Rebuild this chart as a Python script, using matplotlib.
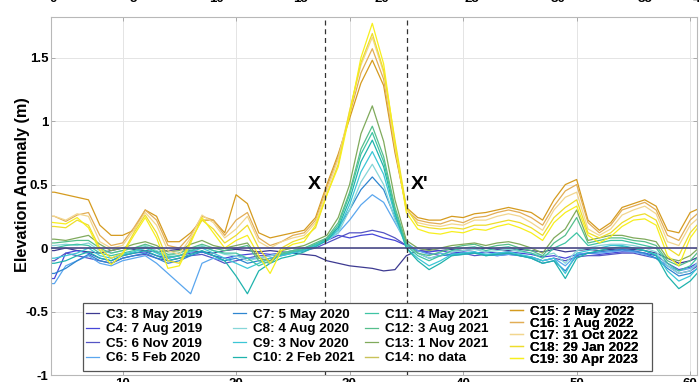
import matplotlib
matplotlib.use('Agg')
import matplotlib.pyplot as plt
from matplotlib.patches import Rectangle

plt.rcParams['font.family'] = ['Liberation Sans', 'DejaVu Sans']
plt.rcParams['font.weight'] = 'bold'

# distance along profile
x = list(range(3, 62))

c3 = [-0.02, -0.02, 0.00, -0.02, -0.03, -0.04, -0.02, 0.00, -0.01, -0.02,
      -0.03, -0.02, -0.01, -0.02, -0.03, -0.04, -0.02, -0.01, -0.02, -0.03,
      -0.02, -0.03, -0.04, -0.05, -0.06, -0.10, -0.12, -0.14, -0.15, -0.16,
      -0.18, -0.17, -0.06, -0.02, -0.01, -0.02, -0.01, -0.02, -0.01, 0.00,
      -0.01, -0.02, -0.01, -0.02, -0.03, -0.01, -0.03, -0.02, -0.01, -0.02,
      -0.01, -0.02, -0.01, -0.02, -0.04, -0.08, -0.12, -0.10, -0.06]
c4 = [-0.24, -0.24, -0.04, -0.02, -0.04, -0.08, -0.10, -0.06, -0.04, -0.03,
      -0.06, -0.08, -0.06, -0.04, -0.03, -0.06, -0.08, -0.06, -0.05, -0.04,
      -0.05, -0.04, -0.02, 0.00, 0.02, 0.06, 0.10, 0.08, 0.10, 0.11,
      0.08, 0.06, 0.02, -0.02, -0.03, -0.02, -0.04, -0.03, -0.04, -0.03,
      -0.04, -0.03, -0.04, -0.05, -0.07, -0.06, -0.08, -0.05, -0.04, -0.05,
      -0.04, -0.03, -0.03, -0.04, -0.06, -0.12, -0.17, -0.15, -0.10]
c5 = [-0.10, -0.10, -0.04, -0.06, -0.08, -0.10, -0.12, -0.08, -0.06, -0.05,
      -0.08, -0.10, -0.08, -0.06, -0.05, -0.08, -0.12, -0.10, -0.08, -0.06,
      -0.06, -0.05, -0.03, -0.02, 0.00, 0.04, 0.08, 0.12, 0.12, 0.14,
      0.12, 0.08, 0.02, -0.02, -0.04, -0.06, -0.05, -0.04, -0.06, -0.05,
      -0.06, -0.05, -0.06, -0.07, -0.10, -0.08, -0.10, -0.07, -0.06, -0.06,
      -0.05, -0.04, -0.04, -0.06, -0.08, -0.14, -0.20, -0.18, -0.12]
c6 = [-0.28, -0.28, -0.14, -0.10, -0.06, -0.12, -0.14, -0.10, -0.08, -0.06,
      -0.12, -0.20, -0.28, -0.36, -0.12, -0.08, -0.10, -0.06, -0.08, -0.08,
      -0.06, -0.04, -0.03, -0.01, 0.02, 0.06, 0.12, 0.22, 0.34, 0.42,
      0.36, 0.20, 0.04, -0.02, -0.05, -0.04, -0.06, -0.05, -0.04, -0.05,
      -0.06, -0.05, -0.06, -0.07, -0.10, -0.08, -0.14, -0.05, -0.04, -0.04,
      -0.03, -0.02, -0.03, -0.05, -0.08, -0.14, -0.18, -0.16, -0.12]
c7 = [-0.20, -0.20, -0.16, -0.10, -0.05, -0.10, -0.12, -0.08, -0.06, -0.04,
      -0.08, -0.12, -0.10, -0.06, -0.03, -0.06, -0.10, -0.08, -0.12, -0.10,
      -0.08, -0.06, -0.04, -0.02, 0.02, 0.08, 0.16, 0.30, 0.46, 0.56,
      0.46, 0.24, 0.04, -0.04, -0.08, -0.06, -0.05, -0.04, -0.03, -0.06,
      -0.05, -0.04, -0.06, -0.08, -0.12, -0.10, -0.18, -0.06, -0.04, -0.03,
      -0.02, -0.01, -0.02, -0.04, -0.08, -0.16, -0.22, -0.20, -0.14]
c8 = [0.02, 0.02, 0.03, 0.02, 0.04, -0.02, -0.04, -0.02, 0.00, 0.02,
      -0.02, -0.06, -0.04, -0.01, 0.02, -0.02, -0.05, -0.06, -0.10, -0.08,
      -0.06, -0.04, -0.02, 0.00, 0.03, 0.06, 0.12, 0.30, 0.52, 0.66,
      0.50, 0.22, 0.02, -0.04, -0.08, -0.06, -0.03, -0.02, -0.01, -0.03,
      -0.02, -0.01, -0.03, -0.04, -0.06, -0.04, -0.12, -0.02, 0.00, 0.02,
      0.03, 0.03, 0.02, 0.00, -0.03, -0.14, -0.20, -0.18, -0.08]
c9 = [-0.08, -0.08, -0.06, -0.04, 0.00, -0.06, -0.08, -0.05, -0.03, 0.00,
      -0.04, -0.08, -0.06, -0.03, 0.00, -0.04, -0.08, -0.12, -0.16, -0.12,
      -0.08, -0.06, -0.04, -0.02, 0.02, 0.06, 0.14, 0.34, 0.60, 0.76,
      0.58, 0.26, 0.00, -0.08, -0.14, -0.10, -0.05, -0.04, -0.03, -0.05,
      -0.04, -0.03, -0.05, -0.07, -0.10, -0.08, -0.20, -0.04, -0.02, 0.00,
      0.02, 0.02, 0.00, -0.02, -0.05, -0.18, -0.26, -0.22, -0.12]
c10 = [-0.12, -0.12, -0.10, -0.06, -0.03, -0.08, -0.10, -0.06, -0.04, -0.02,
       -0.06, -0.10, -0.08, -0.05, -0.02, -0.06, -0.10, -0.22, -0.36, -0.18,
       -0.12, -0.08, -0.06, -0.03, 0.01, 0.06, 0.16, 0.38, 0.68, 0.85,
       0.64, 0.28, 0.00, -0.10, -0.17, -0.12, -0.06, -0.05, -0.04, -0.06,
       -0.05, -0.04, -0.06, -0.08, -0.12, -0.10, -0.24, -0.08, -0.04, -0.02,
       0.00, 0.01, 0.00, -0.02, -0.06, -0.22, -0.32, -0.26, -0.16]
c11 = [0.00, 0.00, 0.02, 0.03, 0.02, -0.04, -0.06, -0.04, -0.02, 0.01,
       -0.03, -0.07, -0.06, -0.02, 0.01, -0.02, -0.04, -0.04, -0.08, -0.14,
       -0.10, -0.05, -0.03, -0.01, 0.03, 0.07, 0.18, 0.42, 0.74, 0.91,
       0.68, 0.30, 0.02, -0.06, -0.10, -0.06, -0.02, 0.00, 0.01, -0.02,
       0.00, 0.01, -0.02, -0.04, -0.08, 0.00, 0.04, 0.12, 0.02, 0.04,
       0.06, 0.06, 0.04, 0.02, 0.00, -0.12, -0.18, -0.14, -0.04]
c12 = [0.04, 0.04, 0.05, 0.06, 0.06, 0.00, -0.04, -0.02, 0.00, 0.03,
       0.00, -0.05, -0.04, 0.00, 0.03, 0.00, -0.02, 0.00, 0.02, -0.10,
       -0.12, -0.04, -0.02, 0.00, 0.04, 0.08, 0.20, 0.44, 0.78, 0.96,
       0.72, 0.32, 0.04, -0.04, -0.06, -0.03, 0.00, 0.02, 0.03, 0.00,
       0.02, 0.03, 0.00, -0.02, -0.06, 0.04, 0.10, 0.24, 0.04, 0.06,
       0.08, 0.08, 0.06, 0.05, 0.02, -0.10, -0.14, -0.10, 0.00]
c13 = [0.07, 0.07, 0.06, 0.08, 0.10, 0.03, -0.02, 0.00, 0.03, 0.05,
       0.02, -0.03, -0.02, 0.03, 0.06, 0.02, 0.00, 0.02, 0.04, -0.08,
       -0.10, -0.02, 0.00, 0.02, 0.06, 0.10, 0.24, 0.50, 0.90, 1.12,
       0.84, 0.38, 0.06, 0.00, -0.02, 0.00, 0.02, 0.03, 0.04, 0.02,
       0.04, 0.05, 0.03, 0.00, -0.04, 0.08, 0.15, 0.30, 0.06, 0.08,
       0.10, 0.10, 0.08, 0.07, 0.05, -0.08, -0.10, -0.06, 0.02]
c14 = None  # no data
c15 = [0.44, 0.44, 0.42, 0.40, 0.38, 0.18, 0.10, 0.10, 0.14, 0.30,
       0.25, 0.05, 0.05, 0.12, 0.22, 0.22, 0.12, 0.42, 0.35, 0.12,
       0.08, 0.10, 0.12, 0.14, 0.24, 0.50, 0.74, 1.02, 1.30, 1.48,
       1.28, 0.75, 0.32, 0.24, 0.22, 0.22, 0.25, 0.24, 0.27, 0.28,
       0.30, 0.32, 0.30, 0.28, 0.22, 0.38, 0.50, 0.54, 0.22, 0.14,
       0.20, 0.32, 0.35, 0.38, 0.33, 0.14, 0.12, 0.28, 0.32]
c16 = [0.25, 0.25, 0.21, 0.26, 0.28, 0.10, 0.02, 0.04, 0.16, 0.30,
       0.22, 0.02, 0.00, 0.10, 0.25, 0.22, 0.10, 0.22, 0.28, 0.08,
       0.02, 0.05, 0.10, 0.12, 0.22, 0.48, 0.72, 1.05, 1.38, 1.57,
       1.33, 0.78, 0.30, 0.22, 0.20, 0.19, 0.22, 0.20, 0.24, 0.25,
       0.28, 0.30, 0.28, 0.24, 0.18, 0.33, 0.45, 0.50, 0.20, 0.12,
       0.18, 0.30, 0.33, 0.36, 0.30, 0.10, 0.06, 0.22, 0.30]
c17 = [0.25, 0.25, 0.22, 0.27, 0.25, 0.05, 0.00, 0.02, 0.14, 0.28,
       0.18, -0.02, -0.05, 0.08, 0.26, 0.20, 0.08, 0.15, 0.25, 0.05,
       0.00, 0.05, 0.08, 0.10, 0.20, 0.45, 0.70, 1.08, 1.44, 1.66,
       1.38, 0.80, 0.30, 0.20, 0.18, 0.17, 0.19, 0.18, 0.22, 0.22,
       0.25, 0.27, 0.25, 0.20, 0.14, 0.30, 0.40, 0.44, 0.15, 0.10,
       0.15, 0.26, 0.30, 0.33, 0.27, 0.05, 0.02, 0.18, 0.26]
c18 = [0.17, 0.17, 0.16, 0.22, 0.18, 0.00, -0.08, -0.04, 0.12, 0.26,
       0.12, -0.10, -0.12, 0.06, 0.22, 0.15, 0.04, 0.10, 0.18, 0.00,
       -0.12, 0.00, 0.05, 0.08, 0.16, 0.42, 0.66, 1.08, 1.46, 1.69,
       1.40, 0.85, 0.32, 0.18, 0.16, 0.15, 0.16, 0.15, 0.18, 0.18,
       0.20, 0.22, 0.20, 0.16, 0.10, 0.24, 0.32, 0.38, 0.12, 0.08,
       0.12, 0.20, 0.25, 0.27, 0.22, 0.00, -0.06, 0.12, 0.22]
c19 = [0.21, 0.20, 0.19, 0.24, 0.16, -0.02, -0.13, -0.05, 0.10, 0.24,
       0.08, -0.16, -0.14, 0.04, 0.24, 0.12, 0.00, 0.06, 0.10, -0.06,
       -0.20, -0.02, 0.03, 0.05, 0.18, 0.42, 0.64, 1.05, 1.50, 1.77,
       1.45, 0.82, 0.28, 0.15, 0.12, 0.11, 0.13, 0.12, 0.15, 0.14,
       0.17, 0.19, 0.16, 0.12, 0.06, 0.20, 0.28, 0.33, 0.10, 0.04,
       0.09, 0.17, 0.22, 0.23, 0.18, -0.06, -0.14, 0.08, 0.20]

labels = ['C3: 8 May 2019', 'C4: 7 Aug 2019', 'C5: 6 Nov 2019', 'C6: 5 Feb 2020',
          'C7: 5 May 2020', 'C8: 4 Aug 2020', 'C9: 3 Nov 2020', 'C10: 2 Feb 2021',
          'C11: 4 May 2021', 'C12: 3 Aug 2021', 'C13: 1 Nov 2021', 'C14: no data',
          'C15: 2 May 2022', 'C16: 1 Aug 2022', 'C17: 31 Oct 2022', 'C18: 29 Jan 2022',
          'C19: 30 Apr 2023']
series = [c3, c4, c5, c6, c7, c8, c9, c10, c11, c12, c13, c14, c15, c16, c17, c18, c19]
colors = ['#3d3a91', '#4646d8', '#5454c4', '#5aa6ee', '#2e86d0', '#86d6d8', '#3cc6d6',
          '#1fb3ad', '#3fc4a4', '#55bf8c', '#80aa5c', '#c9c25a', '#d59b1f', '#e2ad55',
          '#f2d68e', '#eedd2a', '#f7ef1d']

# profile section bounds
x_left, x_right = 27.87, 35.09

# upper panel tick labels (cut off at top of image)
top_labels = ['0', '5', '10', '15', '20', '25', '30', '35', '40']
top_px = [53, 133, 217, 300, 382, 472, 558, 645, 700]

W, H = 699, 382
fig = plt.figure(figsize=(W / 100, H / 100), dpi=100)
ax = fig.add_axes([51 / W, 7 / H, 646 / W, 358 / H])

handles = []
for lab, col, y in zip(labels, colors, series):
    if y is None:
        h, = ax.plot([], [], color=col, lw=1.0, label=lab)
    else:
        h, = ax.plot(x, y, color=col, lw=0.9, label=lab)
    handles.append(h)

ax.axhline(0, color='#4a4a88', lw=1.2, zorder=3)
for xv in (x_left, x_right):
    ax.axvline(xv, color='#333333', lw=0.9, ls=(0, (4, 3)), zorder=3)

ax.text(26.9, 0.5, 'X', fontsize=14, fontweight='bold', ha='center', va='center')
ax.text(36.2, 0.5, "X'", fontsize=14, fontweight='bold', ha='center', va='center')

ax.set_xlim(3.7, 60.6)
ax.set_ylim(-1, 1.82)
ax.set_xticks([10, 20, 30, 40, 50, 60])
ax.set_xticklabels(['10', '20', '30', '40', '50', '60'])
ax.set_yticks([-1, -0.5, 0, 0.5, 1, 1.5])
ax.set_yticklabels(['-1', '-0.5', '0', '0.5', '1', '1.5'])
ax.tick_params(direction='in', top=True, right=True, length=3, width=0.6,
               color='#a0a0a0', labelsize=9.5, pad=2)
for s in ax.spines.values():
    s.set_color('#b8b8b8')
    s.set_linewidth(0.8)
ax.grid(True, color='#e4e4e4', lw=0.7)
ax.set_axisbelow(True)

ax.set_ylabel('Elevation Anomaly (m)', fontsize=11.7, fontweight='bold')
ax.yaxis.set_label_coords(-0.033, 0.531)


def to_ax(px, py):
    return ((px - 51) / 646, (375 - py) / 358)


# legend frame
fx0, fy0 = to_ax(83, 371)
fx1, fy1 = to_ax(652, 303)
ax.add_patch(Rectangle((fx0, fy0), fx1 - fx0, fy1 - fy0, transform=ax.transAxes,
                       facecolor='white', edgecolor='#555555', lw=0.9, zorder=4))

cols = [(handles[0:4], 86, 308.5, 0.15), (handles[4:8], 233, 308.5, 0.15),
        (handles[8:12], 365, 308.5, 0.15), (handles[12:17], 510, 305.5, -0.03)]
for hs, px, py, sp in cols:
    leg = ax.legend(handles=hs, loc='upper left', bbox_to_anchor=to_ax(px, py),
                    bbox_transform=ax.transAxes, frameon=False, fontsize=9.7,
                    handlelength=1.0, handletextpad=0.5, borderpad=0,
                    borderaxespad=0, labelspacing=sp)
    leg.set_zorder(5)
    ax.add_artist(leg)

for lab, px in zip(top_labels, top_px):
    fig.text(px / W, 1 - 2 / H, lab, ha='center', va='baseline',
             fontsize=9.5, fontweight='bold')

fig.savefig('out.png', dpi=100)
